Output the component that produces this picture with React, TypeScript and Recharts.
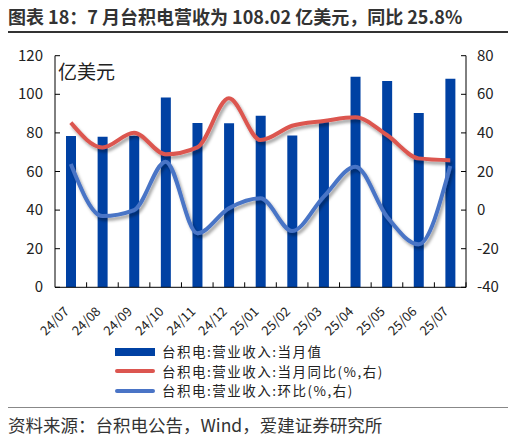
import { Bar, ComposedChart, Line, XAxis, YAxis } from "recharts";

const months = [
  "24/07", "24/08", "24/09", "24/10", "24/11", "24/12", "25/01",
  "25/02", "25/03", "25/04", "25/05", "25/06", "25/07",
];
// 亿美元
const revenue = [78.4, 78.0, 78.5, 98.4, 85.1, 85.0, 88.9, 78.7, 86.3, 109.1, 106.9, 90.3, 108.02];
// 同比 %
const yoy = [45.3, 32.5, 40.1, 28.9, 32.5, 57.9, 36.3, 43.7, 46.2, 48.1, 38.9, 26.8, 25.8];
// 环比 %
const mom = [23.9, -3.1, 0.0, 25.1, -12.0, 0.9, 6.1, -10.8, 7.0, 22.5, -3.4, -17.7, 22.8];

const leftTicks = [0, 20, 40, 60, 80, 100, 120];
const rightTicks = [-40, -20, 0, 20, 40, 60, 80];

const seriesNames = [
  "台积电:营业收入:当月值",
  "台积电:营业收入:当月同比(%,右)",
  "台积电:营业收入:环比(%,右)",
];

const data = months.map((m, i) => ({ month: m, revenue: revenue[i], yoy: yoy[i], mom: mom[i] }));

const BAR = "#0041A3";
const RED = "#DC5650";
const BLUE = "#4A74C6";
const FONT = '"Noto Sans CJK SC", "Microsoft YaHei", sans-serif';

const W = 517;
const H = 340;
const LEFT_W = 55;
const RIGHT_W = 51;
const TOP = 55.7;
const X_H = 52.7;
const BAND = (W - LEFT_W - RIGHT_W) / months.length;

const XTick = (props: any) => {
  const { x, y, payload } = props;
  return (
    <g>
      <line x1={x + BAND / 2} x2={x + BAND / 2} y1={y} y2={y - 5} stroke="#000" />
      <text
        transform={`translate(${x - 1},${y + 25}) rotate(-45)`}
        textAnchor="end"
        fontSize={13}
        fill="#222"
        fontFamily={FONT}
      >
        {payload.value}
      </text>
    </g>
  );
};

const LeftTick = (props: any) => {
  const { x, y, payload } = props;
  return (
    <g>
      <line x1={x} x2={x + 5} y1={y} y2={y} stroke="#000" />
      <text x={x - 12} y={y} dy={5} textAnchor="end" fontSize={15} fill="#222" fontFamily={FONT}>
        {payload.value}
      </text>
    </g>
  );
};

const RightTick = (props: any) => {
  const { x, y, payload } = props;
  return (
    <g>
      <line x1={x} x2={x - 5} y1={y} y2={y} stroke="#000" />
      <text x={x + 11} y={y} dy={5} textAnchor="start" fontSize={15} fill="#222" fontFamily={FONT}>
        {payload.value}
      </text>
    </g>
  );
};

function LegendBox() {
  const colors = [BAR, RED, BLUE];
  return (
    <div
      style={{
        position: "absolute",
        left: 115,
        top: 342,
        fontFamily: FONT,
        fontSize: 13.5,
        letterSpacing: 1.5,
        color: "#222",
      }}
    >
      {seriesNames.map((name, i) => (
        <div key={name} style={{ display: "flex", alignItems: "center", height: 19.5 }}>
          <svg width={47} height={18}>
            {i === 0 ? (
              <rect x={0} y={5} width={40} height={8} fill={colors[i]} />
            ) : (
              <line x1={2} x2={38} y1={9} y2={9} stroke={colors[i]} strokeWidth={4} strokeLinecap="round" />
            )}
          </svg>
          <span style={{ lineHeight: "19.5px", whiteSpace: "nowrap" }}>{name}</span>
        </div>
      ))}
    </div>
  );
}

export default function App() {
  return (
    <div style={{ position: "absolute", left: 0, top: 0, width: W, height: 439, background: "#fff", fontFamily: FONT }}>
      <div style={{ position: "absolute", left: 8, top: 3, fontSize: 18, fontWeight: 700, color: "#333", whiteSpace: "nowrap" }}>
        图表 18：7 月台积电营收为 108.02 亿美元，同比 25.8%
      </div>
      <div style={{ position: "absolute", left: 8, top: 31, width: 500, height: 1.5, background: "#333" }} />

      <div style={{ position: "absolute", left: 0, top: 0 }}>
        <ComposedChart width={W} height={H} data={data} margin={{ top: TOP, right: 0, left: 0, bottom: 0 }}>
          <defs>
            <filter id="shadow" x="-10%" y="-20%" width="120%" height="150%">
              <feDropShadow dx={2} dy={3} stdDeviation={1.8} floodColor="#000" floodOpacity={0.35} />
            </filter>
          </defs>
          <XAxis
            dataKey="month"
            height={X_H}
            tickLine={false}
            tickSize={0}
            tickMargin={0}
            interval={0}
            tick={<XTick />}
            axisLine={{ stroke: "#000" }}
          />
          <YAxis
            yAxisId="left"
            orientation="left"
            width={LEFT_W}
            domain={[0, 120]}
            ticks={leftTicks}
            tickLine={false}
            tickSize={0}
            tickMargin={0}
            tick={<LeftTick />}
            axisLine={{ stroke: "#000" }}
          />
          <YAxis
            yAxisId="right"
            orientation="right"
            width={RIGHT_W}
            domain={[-40, 80]}
            ticks={rightTicks}
            tickLine={false}
            tickSize={0}
            tickMargin={0}
            tick={<RightTick />}
            axisLine={{ stroke: "#000" }}
          />
          <Bar yAxisId="left" dataKey="revenue" name={seriesNames[0]} fill={BAR} barSize={10} isAnimationActive={false} />
          <Line
            yAxisId="right"
            type="monotone"
            dataKey="yoy"
            name={seriesNames[1]}
            stroke={RED}
            strokeWidth={4}
            dot={false}
            activeDot={false}
            filter="url(#shadow)"
            isAnimationActive={false}
          />
          <Line
            yAxisId="right"
            type="monotone"
            dataKey="mom"
            name={seriesNames[2]}
            stroke={BLUE}
            strokeWidth={4}
            dot={false}
            activeDot={false}
            filter="url(#shadow)"
            isAnimationActive={false}
          />
        </ComposedChart>
        <div
          style={{ position: "absolute", left: 58, top: 57, fontSize: 19, color: "#222", fontFamily: FONT }}
        >
          亿美元
        </div>
      </div>

      <LegendBox />

      <div style={{ position: "absolute", left: 8, top: 407, width: 500, height: 1, background: "#888" }} />
      <div style={{ position: "absolute", left: 8, top: 412, fontSize: 17.5, color: "#333", whiteSpace: "nowrap" }}>
        资料来源：台积电公告，Wind，爱建证券研究所
      </div>
    </div>
  );
}
